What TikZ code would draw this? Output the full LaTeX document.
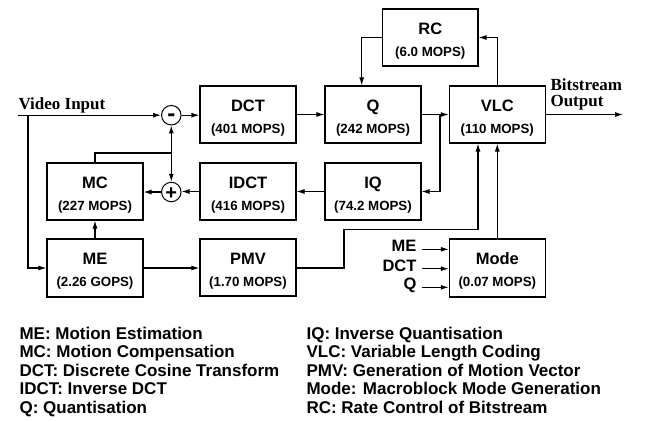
\documentclass[tikz,border=0pt]{standalone}
\usepackage{fontspec}
\setmainfont{Liberation Sans}
\newfontfamily\serifb{Liberation Serif}
\usetikzlibrary{arrows.meta}
\begin{document}
\begin{tikzpicture}[x=1pt,y=-1pt,
  line width=1.1pt,
  arr/.style={-{Latex[length=8pt,width=5pt]}},
  box/.style={draw,line width=1.1pt,minimum width=96pt,minimum height=57pt,inner sep=0pt},
  ttl/.style={anchor=base,inner sep=0pt,font=\fontsize{16.5}{18}\selectfont\bfseries},
  sub/.style={anchor=base,inner sep=0pt,font=\fontsize{13.3}{15}\selectfont\bfseries},
  circ/.style={draw,circle,minimum size=19.5pt,inner sep=0pt,line width=1pt},
  side/.style={anchor=base east,inner sep=0pt,font=\fontsize{16.5}{18}\selectfont\bfseries},
  leg/.style={anchor=base west,inner sep=0pt,align=left,font=\fontsize{17}{18.5}\selectfont\bfseries},
  io/.style={inner sep=0pt,font=\fontsize{17}{16}\selectfont\serifb\bfseries}]
\useasboundingbox (0,0) rectangle (645,421);

% boxes
\node[box] (dct) at (248,114.5) {};
\node[box] (q) at (373,114.5) {};
\node[box] (vlc) at (497.3,114.5) {};
\node[box,minimum width=95.3pt] (rc) at (430.3,37.5) {};
\node[box] (mc) at (95,191.5) {};
\node[box] (idct) at (248,191.5) {};
\node[box] (iq) at (373,191.5) {};
\node[box,minimum height=58pt] (me) at (95,268) {};
\node[box] (pmv) at (248,267.5) {};
\node[box,minimum height=58pt] (mode) at (497.3,268) {};

% labels in boxes
\foreach \n/\t/\s in {dct/DCT/(401 MOPS), q/Q/(242 MOPS), vlc/VLC/(110 MOPS), rc/RC/(6.0 MOPS),
  mc/MC/(227 MOPS), idct/IDCT/(416 MOPS), iq/IQ/(74.2 MOPS), me/ME/(2.26 GOPS),
  pmv/PMV/(1.70 MOPS), mode/Mode/(0.07 MOPS)}{
  \node[ttl] (\n-t) at ([yshift=-25.8pt]\n.north) {\t};
  \node[sub] (\n-s) at ([yshift=-47.8pt]\n.north) {\s};
}

% circles
\node[circ] (minus) at (171.3,115.2) {};
\node[anchor=base,inner sep=0pt,font=\fontsize{24}{24}\selectfont\bfseries] (minus-t) at ([yshift=-6.6pt]minus.center) {-};
\node[circ] (plus) at (171.3,192) {};
\node[anchor=base,inner sep=0pt,font=\fontsize{20}{20}\selectfont\bfseries] (plus-t) at ([yshift=-7pt]plus.center) {+};

% input / output
\node[io,anchor=base west] (vin) at (18,109) {Video Input};
\coordinate (vstart) at (18,115.2);
\coordinate (vbr) at (28,115.2);
\node[io,anchor=base west,align=left] (bout) at (550,106.7) {Bitstream\\Output};
\coordinate (vout) at (623,114.5);

% main connectors
\draw[arr] (vstart) -- (minus.west);
\draw[arr] (vbr) |- (me.west);
\draw[arr] (minus.east) -- (dct.west |- minus.east);
\draw[arr] (dct.east) -- (q.west);
\draw[arr] (q.east) -- (vlc.west);
\draw[arr] (vlc.east) -- (vout);
\coordinate (qbr) at (440,114.5);
\draw[arr] (qbr) |- (iq.east);
\draw[arr] (iq.west) -- (idct.east);
\draw[arr] (idct.west) -- (plus.east |- idct.west);
\draw[arr] (plus.west) -- (mc.east |- plus.west);
\coordinate (mcj) at (171.3,153);
\draw (mc.north) |- (mcj);
\draw[arr] (mcj) -- (minus.south);
\draw[arr] (mcj) -- (plus.north);
\draw[arr] (me.north) -- (mc.south);
\draw[arr] (me.east) -- (pmv.west |- me.east);
\coordinate (p1) at (344,268);
\coordinate (p2) at (344,229.3);
\coordinate (p3) at (478,229.3);
\draw[arr] (pmv.east |- p1) -- (p1) -- (p2) -- (p3) -- (p3 |- vlc.south);
\draw[arr] (mode.north) -- (vlc.south);
\coordinate (rcl) at (361.7,37.5);
\draw[arr] (rc.west) -- (rcl) -- (rcl |- q.north);
\coordinate (rcr) at (497.3,37.5);
\draw[arr] (vlc.north) -- (rcr) -- (rc.east);

% mode inputs
\node[side] (sme) at (417,251.7) {ME};
\node[side] (sdct) at (417,271) {DCT};
\node[side] (sq) at (417,289.3) {Q};
\coordinate (a1) at (421.7,249.3);
\coordinate (a2) at (421.7,268.7);
\coordinate (a3) at (421.7,287.3);
\draw[arr] (a1) -- (mode.west |- a1);
\draw[arr] (a2) -- (mode.west |- a2);
\draw[arr] (a3) -- (mode.west |- a3);

% legend
\node[leg] (leg1) at (19,413) {ME: Motion Estimation\\MC: Motion Compensation\\DCT: Discrete Cosine Transform\\IDCT: Inverse DCT\\Q: Quantisation};
\node[leg] (leg2) at (306,413) {IQ: Inverse Quantisation\\VLC: Variable Length Coding\\PMV: Generation of Motion Vector\\Mode: Macroblock Mode Generation\\RC: Rate Control of Bitstream};
\end{tikzpicture}
\end{document}
